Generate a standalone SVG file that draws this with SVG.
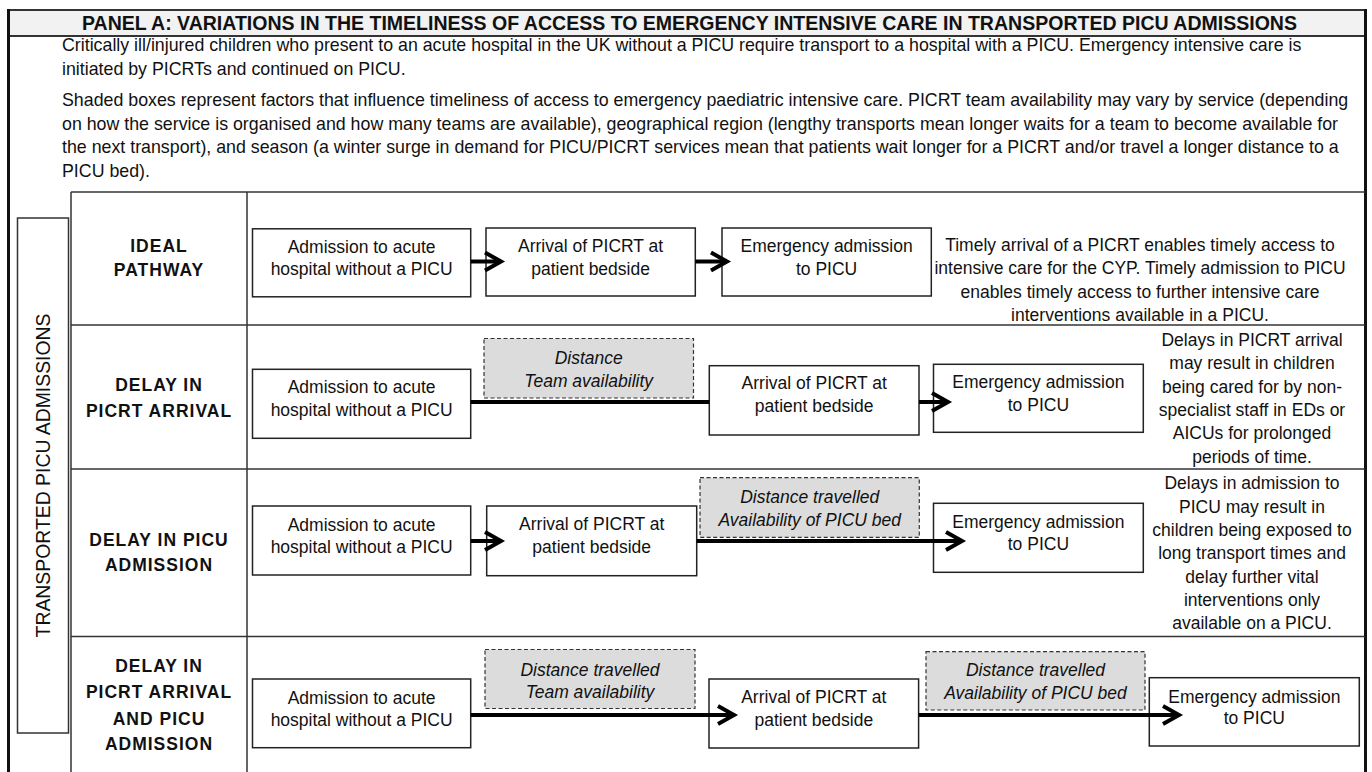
<svg xmlns="http://www.w3.org/2000/svg" width="1372" height="772" viewBox="0 0 1372 772">
<style>
text { font-family: "Liberation Sans", Arial, Helvetica, sans-serif; fill: #111; }
.hdr { font-size: 19.4px; font-weight: bold; }
.para { font-size: 17.8px; }
.t { font-size: 17.5px; text-anchor: middle; }
.ti { font-size: 17.5px; text-anchor: middle; font-style: italic; }
.cat { font-size: 17.5px; font-weight: bold; text-anchor: middle; letter-spacing: 1px; }
.vlab { font-size: 19.4px; text-anchor: middle; }
.box { fill: #fff; stroke: #222; stroke-width: 1.5; }
.shade { fill: #dcdcdc; stroke: #333; stroke-width: 1.2; stroke-dasharray: 4 2.5; }
.grid { stroke: #333; stroke-width: 1.5; fill: none; }
.thick { stroke: #111; stroke-width: 3; fill: none; }
.conn { stroke: #000; stroke-width: 4; fill: none; }
.arr { marker-end: url(#chev); }
</style>
<defs>
<marker id="chev" markerUnits="userSpaceOnUse" markerWidth="30" markerHeight="30" refX="17" refY="10" orient="auto" overflow="visible">
<path d="M1,1 L17,10 L1,19" fill="none" stroke="#000" stroke-width="4" stroke-linejoin="miter"/>
</marker>
</defs>

<g id="frame">
<rect x="8.5" y="10" width="1357" height="26" fill="#f2f2f2" stroke="#333" stroke-width="2"/>
<line class="thick" x1="8.5" y1="9" x2="8.5" y2="772"/>
<line class="thick" x1="1365.5" y1="9" x2="1365.5" y2="772"/>
<text class="hdr" x="82" y="30" textLength="1215" lengthAdjust="spacingAndGlyphs">PANEL A: VARIATIONS IN THE TIMELINESS OF ACCESS TO EMERGENCY INTENSIVE CARE IN TRANSPORTED PICU ADMISSIONS</text>
</g>

<g id="intro">
<text class="para" x="62" y="51">Critically ill/injured children who present to an acute hospital in the UK without a PICU require transport to a hospital with a PICU. Emergency intensive care is</text>
<text class="para" x="62" y="75">initiated by PICRTs and continued on PICU.</text>
<text class="para" x="62" y="106">Shaded boxes represent factors that influence timeliness of access to emergency paediatric intensive care. PICRT team availability may vary by service (depending</text>
<text class="para" x="62" y="129.5">on how the service is organised and how many teams are available), geographical region (lengthy transports mean longer waits for a team to become available for</text>
<text class="para" x="62" y="153">the next transport), and season (a winter surge in demand for PICU/PICRT services mean that patients wait longer for a PICRT and/or travel a longer distance to a</text>
<text class="para" x="62" y="176.5">PICU bed).</text>
</g>

<g id="table">
<line class="grid" x1="71" y1="192" x2="1365" y2="192"/>
<line class="grid" x1="71" y1="192" x2="71" y2="772"/>
<line class="grid" x1="247" y1="192" x2="247" y2="772"/>
<line class="grid" x1="71" y1="325" x2="1365" y2="325"/>
<line class="grid" x1="71" y1="469" x2="1365" y2="469"/>
<line class="grid" x1="71" y1="636.5" x2="1365" y2="636.5"/>
</g>

<g id="side-label">
<rect x="17.5" y="218" width="51" height="515" fill="#fff" stroke="#333" stroke-width="1.5"/>
<text class="vlab" transform="translate(50,475.5) rotate(-90)">TRANSPORTED PICU ADMISSIONS</text>
</g>

<g id="cat-ideal">
<text class="cat" x="159" y="252">IDEAL</text>
<text class="cat" x="159" y="275.5">PATHWAY</text>
</g>
<g id="cat-delay-picrt">
<text class="cat" x="159" y="391.3">DELAY IN</text>
<text class="cat" x="159" y="417">PICRT ARRIVAL</text>
</g>
<g id="cat-delay-picu">
<text class="cat" x="159" y="546.3">DELAY IN PICU</text>
<text class="cat" x="159" y="571.3">ADMISSION</text>
</g>
<g id="cat-delay-both">
<text class="cat" x="159" y="672.3">DELAY IN</text>
<text class="cat" x="159" y="698">PICRT ARRIVAL</text>
<text class="cat" x="159" y="724.6">AND PICU</text>
<text class="cat" x="159" y="750.3">ADMISSION</text>
</g>

<!-- Row 1 -->
<g id="r1-admission">
<rect class="box" x="252.5" y="228.8" width="218.2" height="68"/>
<text class="t" x="361.6" y="252.7">Admission to acute</text>
<text class="t" x="361.6" y="275.3">hospital without a PICU</text>
</g>
<g id="r1-arrival">
<rect class="box" x="486" y="228" width="209.3" height="68"/>
<text class="t" x="590.6" y="252.2">Arrival of PICRT at</text>
<text class="t" x="590.6" y="274.8">patient bedside</text>
</g>
<g id="r1-emergency">
<rect class="box" x="722" y="228" width="209.3" height="68"/>
<text class="t" x="826.6" y="252.2">Emergency admission</text>
<text class="t" x="826.6" y="274.8">to PICU</text>
</g>
<g id="r1-note">
<text class="t" x="1140" y="251">Timely arrival of a PICRT enables timely access to</text>
<text class="t" x="1140" y="274.3">intensive care for the CYP. Timely admission to PICU</text>
<text class="t" x="1140" y="297.7">enables timely access to further intensive care</text>
<text class="t" x="1140" y="321">interventions available in a PICU.</text>
</g>

<!-- Row 2 -->
<g id="r2-admission">
<rect class="box" x="252.5" y="369.3" width="218.2" height="69"/>
<text class="t" x="361.6" y="392.7">Admission to acute</text>
<text class="t" x="361.6" y="416">hospital without a PICU</text>
</g>
<g id="r2-factor">
<rect class="shade" x="484" y="338.5" width="209.5" height="59.5"/>
<text class="ti" x="588.7" y="363.7">Distance</text>
<text class="ti" x="588.7" y="387">Team availability</text>
</g>
<g id="r2-arrival">
<rect class="box" x="709.3" y="365.7" width="209.7" height="69.3"/>
<text class="t" x="814.2" y="389.3">Arrival of PICRT at</text>
<text class="t" x="814.2" y="412">patient bedside</text>
</g>
<g id="r2-emergency">
<rect class="box" x="933.5" y="364.3" width="209.8" height="68"/>
<text class="t" x="1038.4" y="388.3">Emergency admission</text>
<text class="t" x="1038.4" y="411">to PICU</text>
</g>
<g id="r2-note">
<text class="t" x="1252" y="346">Delays in PICRT arrival</text>
<text class="t" x="1252" y="369.3">may result in children</text>
<text class="t" x="1252" y="392.7">being cared for by non-</text>
<text class="t" x="1252" y="416">specialist staff in EDs or</text>
<text class="t" x="1252" y="439.3">AICUs for prolonged</text>
<text class="t" x="1252" y="462.7">periods of time.</text>
</g>

<!-- Row 3 -->
<g id="r3-admission">
<rect class="box" x="252.5" y="506" width="218.2" height="69"/>
<text class="t" x="361.6" y="531">Admission to acute</text>
<text class="t" x="361.6" y="552.7">hospital without a PICU</text>
</g>
<g id="r3-arrival">
<rect class="box" x="486.7" y="506" width="210" height="69.7"/>
<text class="t" x="591.7" y="530">Arrival of PICRT at</text>
<text class="t" x="591.7" y="552.7">patient bedside</text>
</g>
<g id="r3-factor">
<rect class="shade" x="700" y="477.7" width="219.3" height="59.6"/>
<text class="ti" x="809.7" y="502.7">Distance travelled</text>
<text class="ti" x="809.7" y="526">Availability of PICU bed</text>
</g>
<g id="r3-emergency">
<rect class="box" x="933.5" y="503.3" width="209.8" height="69"/>
<text class="t" x="1038.4" y="527.7">Emergency admission</text>
<text class="t" x="1038.4" y="550">to PICU</text>
</g>
<g id="r3-note">
<text class="t" x="1252" y="489.3">Delays in admission to</text>
<text class="t" x="1252" y="512.7">PICU may result in</text>
<text class="t" x="1252" y="536">children being exposed to</text>
<text class="t" x="1252" y="559.3">long transport times and</text>
<text class="t" x="1252" y="582.7">delay further vital</text>
<text class="t" x="1252" y="606">interventions only</text>
<text class="t" x="1252" y="629.3">available on a PICU.</text>
</g>

<!-- Row 4 -->
<g id="r4-admission">
<rect class="box" x="252.5" y="679" width="218.2" height="68.7"/>
<text class="t" x="361.6" y="703.7">Admission to acute</text>
<text class="t" x="361.6" y="726">hospital without a PICU</text>
</g>
<g id="r4-factor-1">
<rect class="shade" x="485" y="649.5" width="210" height="59"/>
<text class="ti" x="590" y="676">Distance travelled</text>
<text class="ti" x="590" y="698">Team availability</text>
</g>
<g id="r4-arrival">
<rect class="box" x="709" y="679" width="209.6" height="69"/>
<text class="t" x="813.8" y="703">Arrival of PICRT at</text>
<text class="t" x="813.8" y="726">patient bedside</text>
</g>
<g id="r4-factor-2">
<rect class="shade" x="926" y="651.7" width="219" height="58.3"/>
<text class="ti" x="1035.5" y="676">Distance travelled</text>
<text class="ti" x="1035.5" y="698.7">Availability of PICU bed</text>
</g>
<g id="r4-emergency">
<rect class="box" x="1149.3" y="677.7" width="210" height="68.3"/>
<text class="t" x="1254.3" y="702.7">Emergency admission</text>
<text class="t" x="1254.3" y="724.3">to PICU</text>
</g>

<g id="connectors">
<line class="conn arr" x1="470.7" y1="261.5" x2="501" y2="261.5"/>
<line class="conn arr" x1="695.3" y1="261.5" x2="727" y2="261.5"/>
<line class="conn" x1="470.7" y1="402" x2="709.3" y2="402"/>
<line class="conn arr" x1="919" y1="402" x2="948" y2="402"/>
<line class="conn arr" x1="470.7" y1="541" x2="501" y2="541"/>
<line class="conn arr" x1="696.7" y1="541" x2="962" y2="541"/>
<line class="conn arr" x1="470.7" y1="715" x2="734" y2="715"/>
<line class="conn arr" x1="918.6" y1="715" x2="1179" y2="715"/>
</g>
</svg>
